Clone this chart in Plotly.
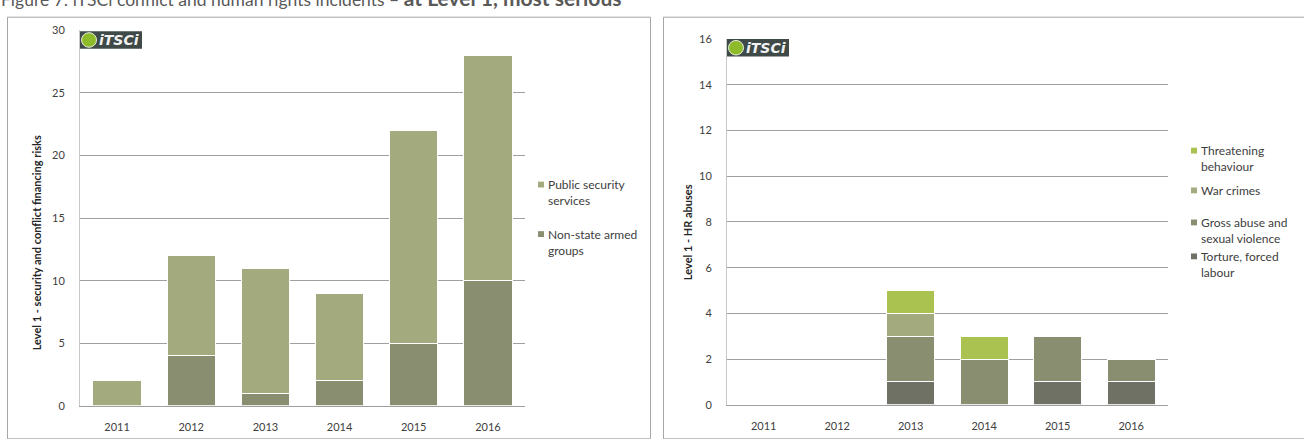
import plotly.graph_objects as go

W, H = 1304, 439

years = ["2011", "2012", "2013", "2014", "2015", "2016"]

# Left chart: Level 1 - security and conflict financing risks
non_state_armed = [0, 4, 1, 2, 5, 10]
public_security = [2, 8, 10, 7, 17, 18]

# Right chart: Level 1 - HR abuses
torture_forced = [0, 0, 1, 0, 1, 1]
gross_abuse = [0, 0, 2, 2, 2, 1]
war_crimes = [0, 0, 1, 0, 0, 0]
threatening = [0, 0, 1, 1, 0, 0]

left_ticks = [0, 5, 10, 15, 20, 25, 30]
right_ticks = [0, 2, 4, 6, 8, 10, 12, 14, 16]

C_LIGHT = "#a3ab7e"
C_MID = "#8a8e70"
C_DARK = "#6f7165"
C_GREEN = "#a9c250"

FONT = "Lato, 'Open Sans', sans-serif"
TXT = "#404040"


def px(x):
    return x / W


def py(y):
    return 1 - y / H


fig = go.Figure()

bar_line = dict(color="white", width=1)

fig.add_trace(go.Bar(x=years, y=non_state_armed, name="Non-state armed groups",
                     marker=dict(color=C_MID, line=bar_line), xaxis="x", yaxis="y"))
fig.add_trace(go.Bar(x=years, y=public_security, name="Public security services",
                     marker=dict(color=C_LIGHT, line=bar_line), xaxis="x", yaxis="y"))

fig.add_trace(go.Bar(x=years, y=torture_forced, name="Torture, forced labour",
                     marker=dict(color=C_DARK, line=bar_line), xaxis="x2", yaxis="y2"))
fig.add_trace(go.Bar(x=years, y=gross_abuse, name="Gross abuse and sexual violence",
                     marker=dict(color=C_MID, line=bar_line), xaxis="x2", yaxis="y2"))
fig.add_trace(go.Bar(x=years, y=war_crimes, name="War crimes",
                     marker=dict(color=C_LIGHT, line=bar_line), xaxis="x2", yaxis="y2"))
fig.add_trace(go.Bar(x=years, y=threatening, name="Threatening behaviour",
                     marker=dict(color=C_GREEN, line=bar_line), xaxis="x2", yaxis="y2"))

axis_font = dict(family=FONT, size=11, color=TXT)

fig.update_layout(
    width=W, height=H,
    margin=dict(l=0, r=0, t=0, b=0),
    paper_bgcolor="white", plot_bgcolor="white",
    barmode="stack", bargap=0.35,
    showlegend=False,
    font=dict(family=FONT, size=11, color=TXT),
    xaxis=dict(domain=[px(80), px(525)], anchor="y", showline=True, linecolor="#a0a0a0",
               linewidth=1, showgrid=False, ticks="", tickfont=axis_font,
               ticklabelstandoff=11, fixedrange=True),
    yaxis=dict(domain=[py(411), py(24)], anchor="x", range=[0, 30], tickvals=left_ticks,
               showline=True, linecolor="#c8c8c8", linewidth=1, showgrid=True,
               gridcolor="#a0a0a0", gridwidth=1, zeroline=False, ticks="",
               tickfont=axis_font, ticklabelstandoff=12),
    xaxis2=dict(domain=[px(727), px(1168)], anchor="y2", showline=True, linecolor="#a0a0a0",
                linewidth=1, showgrid=False, ticks="", tickfont=axis_font,
                ticklabelstandoff=11),
    yaxis2=dict(domain=[py(410), py(33)], anchor="x2", range=[0, 16], tickvals=right_ticks,
                showline=True, linecolor="#c8c8c8", linewidth=1, showgrid=True,
                gridcolor="#a0a0a0", gridwidth=1, zeroline=False, ticks="",
                tickfont=axis_font, ticklabelstandoff=12),
)

shapes = []
annotations = []

# panel borders
shapes.append(dict(type="rect", xref="paper", yref="paper", x0=px(7.5), x1=px(650.5),
                   y0=py(445), y1=py(10.5), line=dict(color="#a6a6a6", width=1)))
shapes.append(dict(type="rect", xref="paper", yref="paper", x0=px(663.5), x1=px(1310),
                   y0=py(445), y1=py(10.5), line=dict(color="#a6a6a6", width=1)))

# title (partially cropped at the top edge, as in the original)
annotations.append(dict(
    xref="paper", yref="paper", x=0, y=py(10), xanchor="left", yanchor="bottom",
    showarrow=False, borderpad=0, yshift=6,
    text=("Figure 7: iTSCi conflict and human rights incidents – "
          "<span style='font-size:21px'><b>at Level 1, most serious</b></span>"),
    font=dict(family=FONT, size=17.5, color="#595959")))

# y axis titles
annotations.append(dict(xref="paper", yref="paper", x=px(28), y=py(243), textangle=-90,
                        showarrow=False, text="<b>Level 1 - security and conflict financing risks</b>",
                        font=dict(family=FONT, size=11, color="#262626")))
annotations.append(dict(xref="paper", yref="paper", x=px(687), y=py(232), textangle=-90,
                        showarrow=False, text="<b>Level 1 - HR abuses</b>",
                        font=dict(family=FONT, size=11, color="#262626")))

# logos
def logo(x0, y0, x1, y1):
    shapes.append(dict(type="rect", xref="paper", yref="paper", x0=px(x0), x1=px(x1),
                       y0=py(y1), y1=py(y0), fillcolor="#3f4a48", line=dict(width=0),
                       layer="above"))
    h = y1 - y0
    shapes.append(dict(type="circle", xref="paper", yref="paper", x0=px(x0 + 1.5),
                       x1=px(x0 + 1.5 + h - 3), y0=py(y1 - 1.5), y1=py(y0 + 1.5),
                       fillcolor="#8dbb2a", line=dict(color="#e8eee0", width=1), layer="above"))
    annotations.append(dict(xref="paper", yref="paper", x=px(x0 + h - 1), y=py((y0 + y1) / 2),
                            xanchor="left", yanchor="middle", showarrow=False,
                            text="<b><i>iTSCi</i></b>",
                            font=dict(family="'DejaVu Sans', sans-serif", size=14,
                                      color="#f2f2f2")))

logo(80, 25, 142, 43)
logo(727, 33, 789, 51)

# legends (manual, matching the original placement)
def legend_item(xm, ym, color, text):
    shapes.append(dict(type="rect", xref="paper", yref="paper", x0=px(xm), x1=px(xm + 6),
                       y0=py(ym + 3), y1=py(ym - 3), fillcolor=color, line=dict(width=0)))
    annotations.append(dict(xref="paper", yref="paper", x=px(xm + 8), y=py(ym - 9.5),
                            xanchor="left", yanchor="top", align="left", showarrow=False,
                            text=text, font=dict(family=FONT, size=12, color=TXT)))

legend_item(538, 183, C_LIGHT, "Public security<br>services")
legend_item(538, 234, C_MID, "Non-state armed<br>groups")

legend_item(1191, 148, C_GREEN, "Threatening<br>behaviour")
legend_item(1191, 189, C_LIGHT, "War crimes")
legend_item(1191, 222, C_MID, "Gross abuse and<br>sexual violence")
legend_item(1191, 257, C_DARK, "Torture, forced<br>labour")

fig.update_layout(shapes=shapes, annotations=annotations)

fig.write_html("out.html")
